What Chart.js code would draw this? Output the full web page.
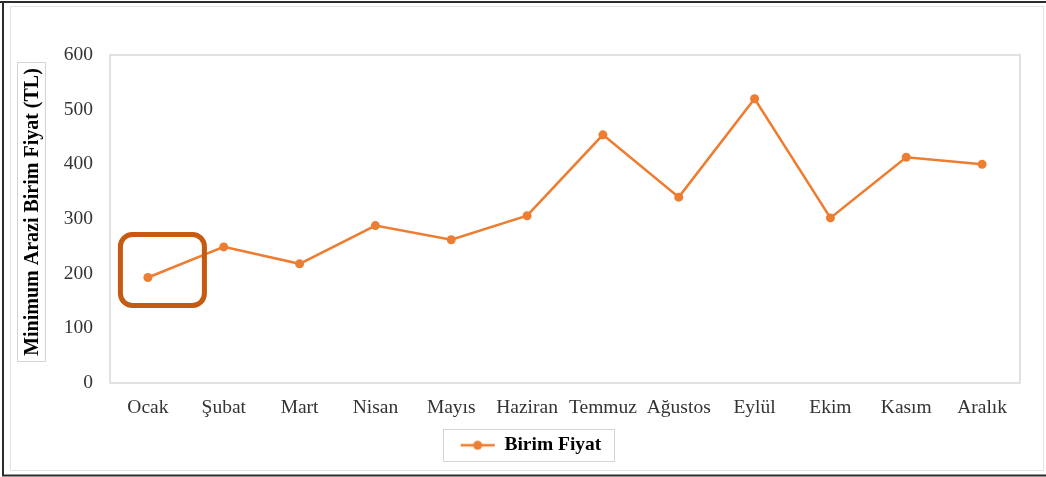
<!DOCTYPE html>
<html>
<head>
<meta charset="utf-8">
<script src="https://cdn.jsdelivr.net/npm/chart.js@4.4.1/dist/chart.umd.min.js"></script>
<style>
  html, body { margin: 0; padding: 0; background: #fff; }
  #wrap { position: relative; width: 1046px; height: 477px; }
</style>
</head>
<body>
<div id="wrap"><canvas id="c" width="1046" height="477"></canvas></div>
<script>
// Monthly minimum land unit price (TL)
const months = ['Ocak', 'Şubat', 'Mart', 'Nisan', 'Mayıs', 'Haziran', 'Temmuz', 'Ağustos', 'Eylül', 'Ekim', 'Kasım', 'Aralık'];
const unitPrices = [193, 249, 218, 288, 262, 306, 454, 340, 520, 302, 413, 400];
const yTickValues = [0, 100, 200, 300, 400, 500, 600];
const seriesLabel = 'Birim Fiyat';
const yAxisTitle = 'Minimum Arazi Birim Fiyat (TL)';
const highlightedMonth = 'Ocak';

const SERIF = '"Liberation Serif", "Times New Roman", serif';
const ORANGE = '#ED7D31';

// Legend marker: short line with a dot in the middle
function makeLegendMarker() {
  const cv = document.createElement('canvas');
  cv.width = 36; cv.height = 12;
  const g = cv.getContext('2d');
  g.strokeStyle = ORANGE;
  g.lineWidth = 2.5;
  g.beginPath(); g.moveTo(1, 6); g.lineTo(35, 6); g.stroke();
  g.fillStyle = ORANGE;
  g.beginPath(); g.arc(18, 6, 4.5, 0, Math.PI * 2); g.fill();
  return cv;
}

function roundRectPath(ctx, x, y, w, h, r) {
  ctx.beginPath();
  ctx.moveTo(x + r, y);
  ctx.lineTo(x + w - r, y);
  ctx.arcTo(x + w, y, x + w, y + r, r);
  ctx.lineTo(x + w, y + h - r);
  ctx.arcTo(x + w, y + h, x + w - r, y + h, r);
  ctx.lineTo(x + r, y + h);
  ctx.arcTo(x, y + h, x, y + h - r, r);
  ctx.lineTo(x, y + r);
  ctx.arcTo(x, y, x + r, y, r);
  ctx.closePath();
}

const decorations = {
  id: 'decorations',
  beforeDraw(chart) {
    const ctx = chart.ctx;
    const a = chart.chartArea;
    ctx.save();
    ctx.fillStyle = '#fff';
    ctx.fillRect(0, 0, chart.width, chart.height);
    // outer frame
    ctx.strokeStyle = '#2b2b2b';
    ctx.lineWidth = 2;
    ctx.beginPath();
    ctx.moveTo(0, 2); ctx.lineTo(chart.width, 2);
    ctx.moveTo(3, 1); ctx.lineTo(3, 476);
    ctx.moveTo(2, 475.5); ctx.lineTo(chart.width, 475.5);
    ctx.stroke();
    // chart area frame
    ctx.strokeStyle = '#e2e2e2';
    ctx.lineWidth = 1;
    ctx.strokeRect(10.5, 6.5, 1033, 464);
    // plot area border
    ctx.strokeStyle = '#d9d9d9';
    ctx.lineWidth = 1.5;
    ctx.strokeRect(a.left, a.top, a.right - a.left, a.bottom - a.top);
    ctx.restore();
  },
  afterDraw(chart) {
    const ctx = chart.ctx;
    const a = chart.chartArea;
    ctx.save();
    // y-axis title with its box
    const cy = (a.top + a.bottom) / 2 - 7;
    ctx.strokeStyle = '#d4d4d4';
    ctx.lineWidth = 1;
    ctx.strokeRect(17.5, cy - 149.5, 28, 299);
    ctx.translate(31.5, cy);
    ctx.rotate(-Math.PI / 2);
    ctx.font = 'bold 20px ' + SERIF;
    ctx.fillStyle = '#000';
    ctx.textAlign = 'center';
    ctx.textBaseline = 'middle';
    ctx.fillText(yAxisTitle, 0, 1);
    ctx.restore();

    // highlight around the selected month
    const idx = months.indexOf(highlightedMonth);
    const pt = chart.getDatasetMeta(0).data[idx];
    if (pt) {
      ctx.save();
      ctx.strokeStyle = '#C55A11';
      ctx.lineWidth = 5;
      roundRectPath(ctx, pt.x - 27.5, pt.y - 43, 84, 71, 12);
      ctx.stroke();
      ctx.restore();
    }

    // legend box
    const lg = chart.legend;
    if (lg && lg.legendHitBoxes && lg.legendHitBoxes.length) {
      const hb = lg.legendHitBoxes[0];
      const my = hb.top + hb.height / 2;
      ctx.save();
      ctx.strokeStyle = '#d4d4d4';
      ctx.lineWidth = 1;
      ctx.strokeRect(Math.round(hb.left - 18) + 0.5, Math.round(my - 16) + 0.5, Math.round(hb.width + 30), 32);
      ctx.restore();
    }
  }
};

new Chart(document.getElementById('c'), {
  type: 'line',
  data: {
    labels: months,
    datasets: [{
      label: seriesLabel,
      data: unitPrices,
      borderColor: ORANGE,
      backgroundColor: ORANGE,
      borderWidth: 2.5,
      pointRadius: 4.5,
      pointBorderWidth: 0,
      pointBackgroundColor: ORANGE,
      tension: 0,
      fill: false
    }]
  },
  options: {
    responsive: false,
    animation: false,
    devicePixelRatio: 1,
    layout: { padding: { left: 42, right: 26, top: 55, bottom: 12 } },
    scales: {
      x: {
        offset: true,
        grid: { display: false, drawTicks: false },
        border: { display: false },
        ticks: { color: '#333', font: { family: SERIF, size: 19.5 }, padding: 13, maxRotation: 0, autoSkip: false },
        afterFit(scale) { scale.height = 42.5; }
      },
      y: {
        min: yTickValues[0],
        max: yTickValues[yTickValues.length - 1],
        grid: { display: false, drawTicks: false },
        border: { display: false },
        ticks: { stepSize: yTickValues[1] - yTickValues[0], color: '#333', font: { family: SERIF, size: 19.5 }, padding: 17 },
        afterFit(scale) { scale.width = 68; }
      }
    },
    plugins: {
      tooltip: { enabled: false },
      legend: {
        position: 'bottom',
        labels: {
          usePointStyle: true,
          pointStyle: makeLegendMarker(),
          pointStyleWidth: 34,
          color: '#000',
          font: { family: SERIF, size: 19.5, weight: 'bold' },
          padding: 10
        }
      }
    }
  },
  plugins: [decorations]
});
</script>
</body>
</html>
